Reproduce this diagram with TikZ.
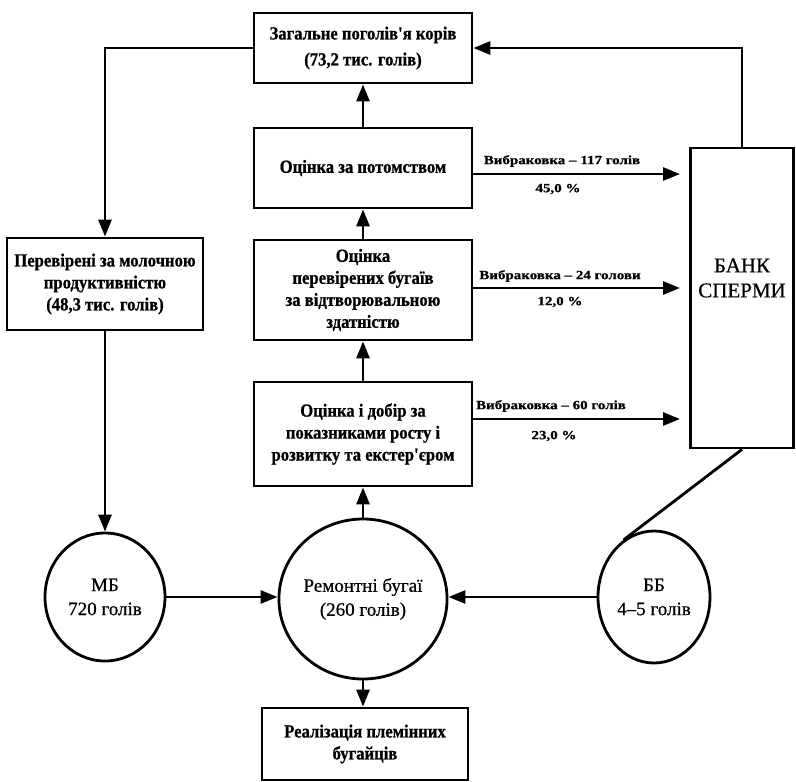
\documentclass[tikz,border=0pt]{standalone}
\usepackage{fontspec}
\setmainfont{Liberation Serif}[FakeBold=0.6]
\newfontfamily\bxf{Liberation Serif}[FakeStretch=0.9, BoldFeatures={FakeBold=0.8}]
\newfontfamily\lbf{Liberation Serif}[FakeStretch=1.2, BoldFeatures={FakeBold=0.8}]
\usetikzlibrary{arrows.meta,shapes.geometric}
\tikzset{
  box/.style={draw, line width=2.8pt, align=center, inner sep=2pt,
    font=\bxf\bfseries\fontsize{18.5}{22}\selectfont},
  circ/.style={draw, ellipse, line width=2.8pt, align=center, inner sep=0pt,
    font=\fontsize{19}{24}\selectfont},
  lab/.style={font=\lbf\bfseries\fontsize{12.5}{14}\selectfont, inner sep=0pt},
  arr/.style={line width=2.8pt, -{Triangle[length=17pt,width=13pt]}},
  plain/.style={line width=2.8pt}
}
\begin{document}
\begin{tikzpicture}[x=1pt,y=-1pt]
\useasboundingbox (0,0) rectangle (796,782);
% boxes
\node[box, minimum width=218, minimum height=70, font=\bxf\bfseries\fontsize{18.5}{26}\selectfont] (top) at (363,48) {Загальне поголів'я корів\\(73,2 тис. голів)};
\node[box, minimum width=218, minimum height=80] (potom) at (363,168) {Оцінка за потомством};
\node[box, minimum width=218, minimum height=100] (vidtv) at (363,290) {Оцінка\\перевірених бугаїв\\за відтворювальною\\здатністю};
\node[box, minimum width=218, minimum height=104] (dobir) at (363,434) {Оцінка і добір за\\показниками росту і\\розвитку та екстер'єром};
\node[box, minimum width=196, minimum height=92] (perev) at (105,284) {Перевірені за молочною\\продуктивністю\\(48,3 тис. голів)};
\node[box, minimum width=103, minimum height=300] (bank) at (742,298) {};
\node[font=\fontsize{21}{25}\selectfont, align=center, inner sep=0pt] (banktxt) at (742,278) {БАНК\\СПЕРМИ};
\node[box, minimum width=206, minimum height=72] (real) at (365,744) {Реалізація племінних\\бугайців};
% circles
\node[circ, minimum width=120, minimum height=128] (mb) at (105,597) {МБ\\720 голів};
\node[circ, minimum width=130, minimum height=160] (rem) at (363,599) {Ремонтні бугаї\\(260 голів)};
\node[circ, minimum width=112, minimum height=132] (bb) at (654,597) {ББ\\4–5 голів};
% connectors
\draw[arr] (top.west) -| (perev.north);
\draw[arr] (bank.north) |- (top.east);
\draw[arr] (potom.north) -- (top.south);
\draw[arr] (vidtv.north) -- (potom.south);
\draw[arr] (dobir.north) -- (vidtv.south);
\draw[arr] (rem.north) -- (dobir.south);
\draw[arr] (rem.south) -- (real.north -| rem.south);
\draw[arr] (perev.south) -- (mb.north);
\draw[arr] (mb.east) -- (mb.east -| rem.west);
\draw[arr] (bb.west) -- (bb.west -| rem.east);
\draw[plain] (bank.south) -- (bb.118);
% culling arrows
\coordinate (e1) at (680,174);
\coordinate (e2) at (680,288);
\coordinate (e3) at (680,419);
\draw[arr] (potom.east |- e1) -- (e1);
\draw[arr] (vidtv.east |- e2) -- (e2);
\draw[arr] (dobir.east |- e3) -- (e3);
\node[lab] (l1) at (562,161) {Вибраковка – 117 голів};
\node[lab] (l1b) at (558,189) {45,0 \%};
\node[lab] (l2) at (560,276) {Вибраковка – 24 голови};
\node[lab] (l2b) at (560,302) {12,0 \%};
\node[lab] (l3) at (551,406) {Вибраковка – 60 голів};
\node[lab] (l3b) at (554,436) {23,0 \%};
\end{tikzpicture}
\end{document}
